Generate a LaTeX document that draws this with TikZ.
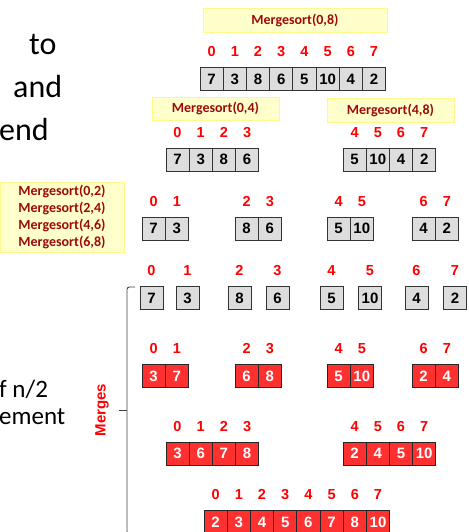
\documentclass[tikz,border=0pt]{standalone}
\usepackage{fontspec}
\setmainfont{Carlito}
\newfontfamily\arialfont{Liberation Sans}
\usetikzlibrary{positioning}
\definecolor{msred}{HTML}{9C0A0A}
\definecolor{cellred}{HTML}{FF3030}
\definecolor{cellgray}{HTML}{DDDDDD}
\definecolor{callfill}{HTML}{FFFFCC}
\tikzset{
    GC/.style ={rectangle, minimum width=23.2pt, minimum height=23pt, inner sep=0pt, outer sep=0pt, draw=black!80, line width=0.8pt, fill=cellgray, font=\arialfont\bfseries\fontsize{15}{18}\selectfont},
    RC/.style ={GC, fill=cellred, draw=black!85, text=white},
    MS/.style ={rectangle, draw=yellow!45, fill=callfill, text=msred, inner sep=0pt, font=\bfseries\fontsize{14}{17}\selectfont},
    TX/.style ={anchor=base west, inner sep=0pt, font=\fontsize{32}{38}\selectfont}}

\begin{document}
\begin{tikzpicture}[x=1pt, y=-1pt, label distance=10.5pt, every label/.style={red, inner sep=0pt, font=\arialfont\bfseries\fontsize{14.5}{17}\selectfont}]
        \useasboundingbox (0,0) rectangle (468,532);
        % slide text behind the diagram
        \node[TX] (t1) at (29,55) {to};
        \node[TX] (t2) at (13,98) {and};
        \node[TX] (t3) at (-1,140) {end};
        \node[TX, font=\fontsize{25}{30}\selectfont] (t4) at (-1,397) {f n/2};
        \node[TX, font=\fontsize{25}{30}\selectfont] (t5) at (-1,424) {ement};
        % calls
        \node[MS, minimum width=184pt, minimum height=24pt] (m08) at (295,20) {Mergesort(0,8)};
        \node[MS, minimum width=127pt, minimum height=23pt] (m04) at (215.5,108.5) {Mergesort(0,4)};
        \node[MS, minimum width=127pt, minimum height=24pt] (m48) at (390.5,110) {Mergesort(4,8)};
        \node[MS, minimum width=124pt, minimum height=70pt, align=center] (m02) at (62,217) {Mergesort(0,2)\\Mergesort(2,4)\\Mergesort(4,6)\\Mergesort(6,8)};
        % split
        \node[GC, label=above:0] (a0) at (211.6,79) {7};
        \node[GC, label=above:1, right=0pt of a0] (a1) {3};
        \node[GC, label=above:2, right=0pt of a1] (a2) {8};
        \node[GC, label=above:3, right=0pt of a2] (a3) {6};
        \node[GC, label=above:4, right=0pt of a3] (a4) {5};
        \node[GC, label=above:5, right=0pt of a4] (a5) {10};
        \node[GC, label=above:6, right=0pt of a5] (a6) {4};
        \node[GC, label=above:7, right=0pt of a6] (a7) {2};
        \node[GC, label=above:0] (b0) at (177.5,159.5) {7};
        \node[GC, label=above:1, right=0pt of b0] (b1) {3};
        \node[GC, label=above:2, right=0pt of b1] (b2) {8};
        \node[GC, label=above:3, right=0pt of b2] (b3) {6};
        \node[GC, label=above:4] (b4) at (354.6,159.5) {5};
        \node[GC, label=above:5, right=0pt of b4] (b5) {10};
        \node[GC, label=above:6, right=0pt of b5] (b6) {4};
        \node[GC, label=above:7, right=0pt of b6] (b7) {2};
        \node[GC, label=above:0] (c0) at (153.6,228.5) {7};
        \node[GC, label=above:1, right=0pt of c0] (c1) {3};
        \node[GC, label=above:2] (c2) at (246.6,228.5) {8};
        \node[GC, label=above:3, right=0pt of c2] (c3) {6};
        \node[GC, label=above:4] (c4) at (338.6,228.5) {5};
        \node[GC, label=above:5, right=0pt of c4] (c5) {10};
        \node[GC, label=above:6] (c6) at (423.6,228.5) {4};
        \node[GC, label=above:7, right=0pt of c6] (c7) {2};
        \node[GC, label=above:0] (d0) at (151.5,298) {7};
        \node[GC, label=above:1] (d1) at (187.5,298) {3};
        \node[GC, label=above:2] (d2) at (239.5,298) {8};
        \node[GC, label=above:3] (d3) at (277.5,298) {6};
        \node[GC, label=above:4] (d4) at (331.5,298) {5};
        \node[GC, label=above:5] (d5) at (370,298) {10};
        \node[GC, label=above:6] (d6) at (416.5,298) {4};
        \node[GC, label=above:7] (d7) at (455,298) {2};
        % merges
        \node[RC, label=above:0] (e0) at (153.6,376) {3};
        \node[RC, label=above:1, right=0pt of e0] (e1) {7};
        \node[RC, label=above:2] (e2) at (246.6,376) {6};
        \node[RC, label=above:3, right=0pt of e2] (e3) {8};
        \node[RC, label=above:4] (e4) at (338.6,376) {5};
        \node[RC, label=above:5, right=0pt of e4] (e5) {10};
        \node[RC, label=above:6] (e6) at (423.6,376) {2};
        \node[RC, label=above:7, right=0pt of e6] (e7) {4};
        \node[RC, label=above:0] (f0) at (177.5,453.5) {3};
        \node[RC, label=above:1, right=0pt of f0] (f1) {6};
        \node[RC, label=above:2, right=0pt of f1] (f2) {7};
        \node[RC, label=above:3, right=0pt of f2] (f3) {8};
        \node[RC, label=above:4] (f4) at (354.6,453.5) {2};
        \node[RC, label=above:5, right=0pt of f4] (f5) {4};
        \node[RC, label=above:6, right=0pt of f5] (f6) {5};
        \node[RC, label=above:7, right=0pt of f6] (f7) {10};
        \node[RC, label=above:0] (g0) at (215.6,522) {2};
        \node[RC, label=above:1, right=0pt of g0] (g1) {3};
        \node[RC, label=above:2, right=0pt of g1] (g2) {4};
        \node[RC, label=above:3, right=0pt of g2] (g3) {5};
        \node[RC, label=above:4, right=0pt of g3] (g4) {6};
        \node[RC, label=above:5, right=0pt of g4] (g5) {7};
        \node[RC, label=above:6, right=0pt of g5] (g6) {8};
        \node[RC, label=above:7, right=0pt of g6] (g7) {10};
        % brace
        \draw[black!75, line width=0.9pt, rounded corners=2.5pt] (135,287) -- (127,287) -- (127,534) -- (135,534);
        \draw[black!75, line width=0.9pt] (119,410) -- (127,410);
        \node[rotate=90, text=red, font=\arialfont\bfseries\fontsize{15}{18}\selectfont] (mg) at (102,410) {Merges};
    \end{tikzpicture}
\end{document}
